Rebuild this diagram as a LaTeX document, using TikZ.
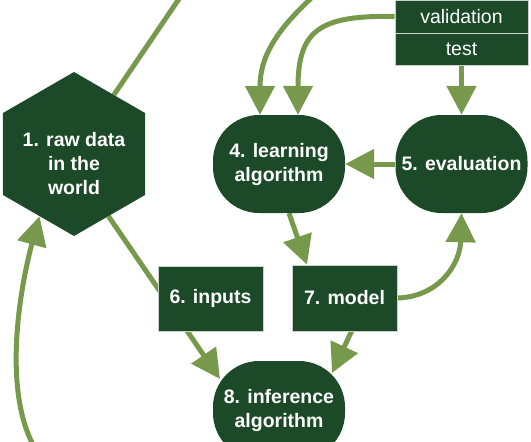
\documentclass[tikz,border=0pt]{standalone}
\usepackage{fontspec}
\setmainfont{Liberation Sans}
\usetikzlibrary{shapes.geometric,arrows.meta,calc}
\pgfdeclarelayer{bg}
\pgfsetlayers{bg,main}
\definecolor{dg}{HTML}{1C4A28}
\definecolor{lg}{HTML}{77994B}
\definecolor{rim}{HTML}{C9D2CB}
\tikzset{
  lbl/.style={text=white, font=\fontsize{19.5}{24}\selectfont\bfseries, align=center, inner sep=0pt},
  plainlbl/.style={text=white, font=\fontsize{19.5}{24}\selectfont, align=center, inner sep=0pt},
  hexshape/.style={regular polygon, regular polygon sides=6, shape border rotate=30, fill=dg, minimum size=164pt, inner sep=0pt},
  blob/.style={rectangle, rounded corners=46pt, fill=dg, minimum width=132pt, minimum height=98pt, inner sep=0pt, lbl},
  boxnode/.style={rectangle, fill=dg, draw=rim, line width=0.6pt, minimum width=105pt, minimum height=65pt, inner sep=0pt, lbl},
  rowbox/.style={rectangle, fill=dg, draw=rim, line width=0.6pt, minimum width=133pt, minimum height=33pt, inner sep=0pt, plainlbl},
  conn/.style={line width=5pt, draw=lg, -{Triangle[length=29pt,width=29pt]}},
  plainline/.style={line width=5pt, draw=lg}
}
\begin{document}
\begin{tikzpicture}[x=1pt,y=-1pt]
\useasboundingbox (0,0) rectangle (531,442);
\clip (0,0) rectangle (531,442);
% nodes
\node[hexshape] (hex) at (74,154) {};
\node[lbl] (hextxt) at ([yshift=-10pt]hex.center) {1. raw data\\in the\\world};
\node[blob] (learn) at (279,164) {4. learning\\algorithm};
\node[blob] (eval) at (461.5,164) {5. evaluation};
\node[blob] (inf) at (279,410) {8. inference\\algorithm};
\node[rowbox] (val) at (461.5,16.5) {validation};
\node[rowbox, minimum height=32pt] (test) at (461.5,49) {test};
\node[boxnode] (inputs) at (210.5,298.5) {6. inputs};
\node[boxnode, minimum height=66pt] (model) at (344.5,298) {7. model};
% free ends
\coordinate (topH) at (185,-10);
\coordinate (topL) at (318,-8);
\coordinate (botL) at (36,450);
% connectors
\begin{pgfonlayer}{bg}
\draw[plainline] (hex.56) -- (topH);
\draw[conn] (topL) .. controls (272,33) and (260,60) .. ([xshift=-19pt]learn.north);
\draw[conn] (val.west) .. controls (320,15) and (298,30) .. ([xshift=19pt]learn.north);
\draw[conn] (test.south) -- (eval.north);
\draw[conn] (eval.west) -- (learn.east);
\draw[conn] ([xshift=10pt]learn.south) -- ([xshift=-37.5pt]model.north);
\draw[conn] (model.east) .. controls (438,297) and (460,265) .. (eval.south);
\draw[conn] ([xshift=7pt]model.south) -- ($(inf.center)+(53,-37)$);
\draw[conn] (hex.-61) -- ($(inf.center)+(-59,-31)$);
\draw[conn] (botL) .. controls (0,390) and (22,280) .. (hex.-119);
\end{pgfonlayer}
\end{tikzpicture}
\end{document}
